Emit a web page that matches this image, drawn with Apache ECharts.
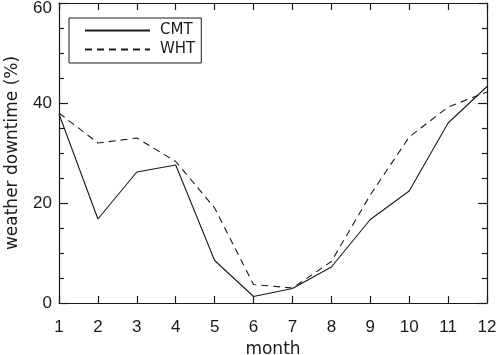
<!DOCTYPE html>
<html>
<head>
<meta charset="utf-8">
<script src="https://cdn.jsdelivr.net/npm/echarts@6/dist/echarts.min.js"></script>
<style>
  html, body { margin: 0; padding: 0; background: #fff; }
  #chart { width: 498px; height: 355px; }
</style>
</head>
<body>
<div id="chart"></div>
<script>
// months on x, downtime in % on y
const months = [1, 2, 3, 4, 5, 6, 7, 8, 9, 10, 11, 12];
const cmt = [37.8, 16.8, 26.2, 27.6, 8.5, 1.3, 2.9, 7.2, 16.7, 22.4, 36.0, 43.3];
const wht = [38.0, 32.0, 33.0, 28.3, 19.0, 3.7, 3.0, 8.3, 21.6, 33.2, 39.2, 42.2];

const numFont = 'Liberation Sans';
const textFont = 'DejaVu Sans';
const ink = '#1a1a1a';

const chart = echarts.init(document.getElementById('chart'));

const pairs = (vals) => months.map((m, i) => [m, vals[i]]);

const axisLineStyle = { show: true, onZero: false, lineStyle: { color: ink, width: 1.2 } };
const xTick = { show: true, inside: true, length: 7, lineStyle: { color: ink, width: 1.2 } };
const yTick = { show: true, inside: true, length: 9, lineStyle: { color: ink, width: 1.2 } };
const yMinor = { show: true, splitNumber: 4, length: 5, lineStyle: { color: ink, width: 1.2 } };

chart.setOption({
  animation: false,
  grid: { left: 59, right: 11, top: 3, bottom: 52, outerBoundsMode: 'none', containLabel: false },
  legend: {
    left: 69, top: 18,
    orient: 'vertical',
    itemWidth: 65, itemHeight: 14, itemGap: 4,
    padding: [5, 6, 6, 15],
    borderColor: ink, borderWidth: 1,
    itemStyle: { opacity: 0 },
    textStyle: { fontFamily: textFont, fontSize: 15, color: ink, padding: [0, 0, 0, 5] },
    data: ['CMT', 'WHT']
  },
  xAxis: [
    {
      type: 'value', min: 1, max: 12, interval: 1,
      name: 'month', nameLocation: 'middle', nameGap: 36,
      nameTextStyle: { fontFamily: textFont, fontSize: 17, color: ink },
      axisLine: axisLineStyle,
      axisTick: xTick,
      axisLabel: { fontFamily: numFont, fontSize: 17, color: ink, margin: 16 },
      splitLine: { show: false }
    },
    {
      type: 'value', min: 1, max: 12, interval: 1, position: 'top',
      axisLine: axisLineStyle,
      axisTick: xTick,
      axisLabel: { show: false },
      splitLine: { show: false }
    }
  ],
  yAxis: [
    {
      type: 'value', min: 0, max: 60, interval: 20,
      name: 'weather downtime (%)', nameLocation: 'middle', nameGap: 38,
      nameTextStyle: { fontFamily: textFont, fontSize: 17, color: ink },
      axisLine: axisLineStyle,
      axisTick: yTick,
      minorTick: yMinor,
      axisLabel: {
        fontFamily: numFont, fontSize: 17, color: ink, margin: 7,
        // the top label sits just under the frame, as in the source
        formatter: (v) => (v === 60 ? '{top|' + v + '}' : String(v)),
        rich: { top: { fontFamily: numFont, fontSize: 17, color: ink, padding: [10, 0, 0, 0] } }
      },
      splitLine: { show: false }
    },
    {
      type: 'value', min: 0, max: 60, interval: 20, position: 'right',
      axisLine: axisLineStyle,
      axisTick: yTick,
      minorTick: yMinor,
      axisLabel: { show: false },
      splitLine: { show: false }
    }
  ],
  series: [
    {
      name: 'CMT', type: 'line', symbol: 'none',
      data: pairs(cmt),
      lineStyle: { color: ink, width: 1.1, type: 'solid' },
      itemStyle: { color: ink }
    },
    {
      name: 'WHT', type: 'line', symbol: 'none',
      data: pairs(wht),
      lineStyle: { color: ink, width: 1.1, type: [7, 5] },
      itemStyle: { color: ink }
    }
  ]
});
</script>
</body>
</html>
